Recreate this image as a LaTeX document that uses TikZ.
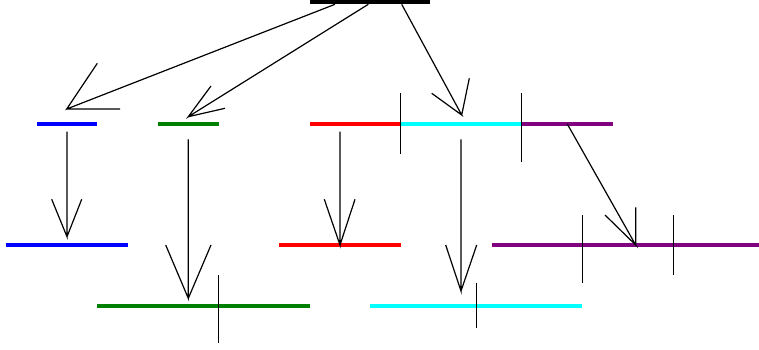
\documentclass[tikz,border=0pt]{standalone}
\definecolor{cblue}{RGB}{0,0,255}
\definecolor{cgreen}{RGB}{0,128,0}
\definecolor{cred}{RGB}{255,0,0}
\definecolor{ccyan}{RGB}{0,255,255}
\definecolor{cpurple}{RGB}{128,0,128}
\begin{document}
\begin{tikzpicture}[x=1pt,y=-1pt,
  bar/.style={rectangle,inner sep=0pt,minimum height=4.3pt,draw=none},
  conn/.style={line width=1.2pt,black,line join=miter},
  tick/.style={line width=1.2pt,black}]
\useasboundingbox (0,0) rectangle (759,349);
% bars
\node[bar,fill=black,minimum width=120pt] (top) at (370,2.15) {};
\node[bar,fill=cblue,minimum width=60pt] (b1) at (67,124) {};
\node[bar,fill=cgreen,minimum width=60.7pt] (g1) at (188.35,124) {};
\node[bar,fill=cred,minimum width=90.7pt] (r1) at (355.35,124) {};
\node[bar,fill=ccyan,minimum width=121pt] (c1) at (461.2,124) {};
\node[bar,fill=cpurple,minimum width=91pt] (p1) at (567.2,124) {};
\node[bar,fill=cblue,minimum width=121.7pt] (b2) at (66.85,245) {};
\node[bar,fill=cred,minimum width=121.7pt] (r2) at (339.85,245) {};
\node[bar,fill=cpurple,minimum width=267.3pt] (p2) at (625.35,245) {};
\node[bar,fill=cgreen,minimum width=212.7pt] (g3) at (203.35,305.7) {};
\node[bar,fill=ccyan,minimum width=212.3pt] (c3) at (476.15,305.7) {};
% ticks
\draw[tick] (400.7,93) -- (400.7,153.7);
\draw[tick] (521.7,93) -- (521.7,161.7);
\draw[tick] (218.7,275) -- (218.7,343.3);
\draw[tick] (476.3,282.7) -- (476.3,328.3);
\draw[tick] (582.3,215) -- (582.3,282.7);
\draw[tick] (673.3,215) -- (673.3,275);
% connector end points
\coordinate (s1) at (335,4.3);   \coordinate (t1) at (66.7,109);
\coordinate (s2) at (368.3,4.3); \coordinate (t2) at (188.3,116.7);
\coordinate (s3) at (401.7,4.3); \coordinate (t3) at (461.7,115);
\coordinate (s4) at (67,131.7);  \coordinate (t4) at (67,236.7);
\coordinate (s5) at (188.3,139.3); \coordinate (t5) at (188.3,298.3);
\coordinate (s6) at (340,131.7); \coordinate (t6) at (340,245);
\coordinate (s7) at (461,139.3); \coordinate (t7) at (461,291);
\coordinate (s8) at (567.3,124); \coordinate (t8) at (635.7,245);
% connectors with open arrowheads
\draw[conn] (s1) -- (t1) -- ++(30.6,-45.7) (t1) -- ++(53.3,0);
\draw[conn] (s2) -- (t2) -- ++(22.7,-30.7) (t2) -- ++(36.7,-8.4);
\draw[conn] (s3) -- (t3) -- ++(-30,-21.7) (t3) -- ++(7.6,-36.7);
\draw[conn] (s4) -- (t4) -- ++(-15.3,-37.4) (t4) -- ++(14.7,-37.4);
\draw[conn] (s5) -- (t5) -- ++(-22.6,-53.3) (t5) -- ++(22.7,-53.3);
\draw[conn] (s6) -- (t6) -- ++(-15.7,-45.7) (t6) -- ++(15,-45.7);
\draw[conn] (s7) -- (t7) -- ++(-15.3,-46) (t7) -- ++(15.7,-46);
\draw[conn] (s8) -- (t8) -- ++(-30.7,-30) (t8) -- ++(0,-37.7);
\end{tikzpicture}
\end{document}
